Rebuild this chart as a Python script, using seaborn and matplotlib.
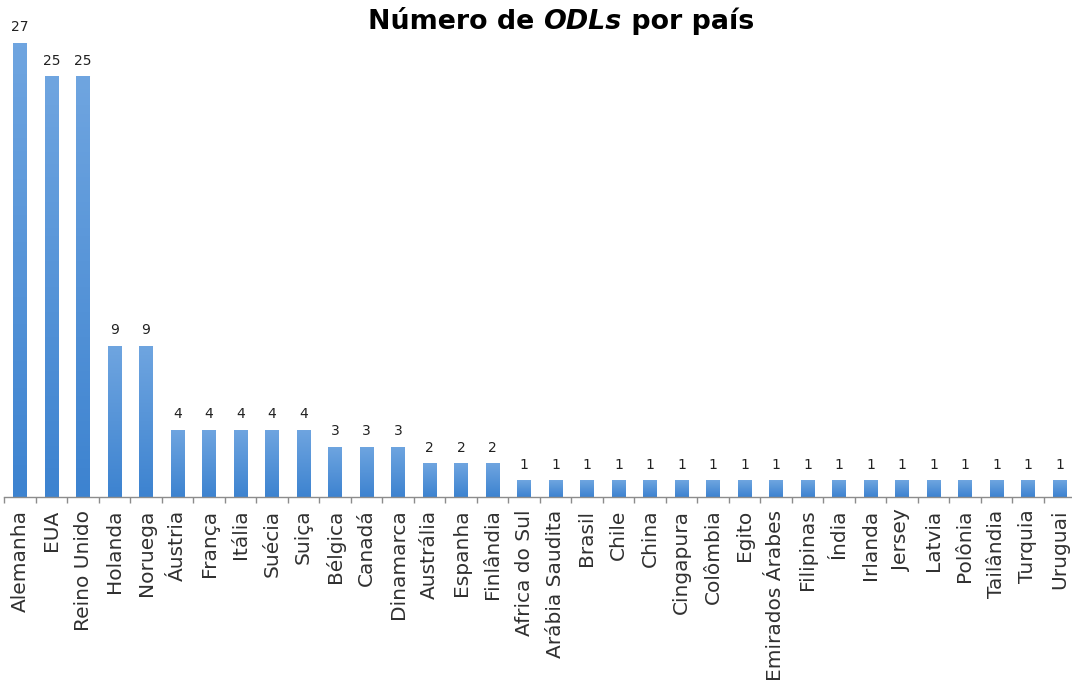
import matplotlib
matplotlib.use("Agg")
import matplotlib.pyplot as plt
from matplotlib.colors import LinearSegmentedColormap
import seaborn as sns
import pandas as pd
import numpy as np

# Dados
paises = ['Alemanha', 'EUA', 'Reino Unido', 'Holanda', 'Noruega', 'Áustria', 'França',
          'Itália', 'Suécia', 'Suiça', 'Bélgica', 'Canadá', 'Dinamarca', 'Austrália',
          'Espanha', 'Finlândia', 'Africa do Sul', 'Arábia Saudita', 'Brasil', 'Chile',
          'China', 'Cingapura', 'Colômbia', 'Egito', 'Emirados Árabes', 'Filipinas',
          'Índia', 'Irlanda', 'Jersey', 'Latvia', 'Polônia', 'Tailândia', 'Turquia', 'Uruguai']
valores = [27, 25, 25, 9, 9, 4, 4, 4, 4, 4, 3, 3, 3, 2, 2, 2,
           1, 1, 1, 1, 1, 1, 1, 1, 1, 1, 1, 1, 1, 1, 1, 1, 1, 1]

df = pd.DataFrame({'pais': paises, 'n': valores})

sns.set_style("white")
plt.rcParams['font.family'] = ['DejaVu Sans']

fig = plt.figure(figsize=(10.72, 6.86), dpi=100)
ax = fig.add_axes([0.004, 0.2755, 0.999, 0.699])

sns.barplot(data=df, x='pais', y='n', color='#5596d8', width=0.42, ax=ax, saturation=1)

ax.set_xlim(-0.5, len(paises) - 0.5)
ax.set_ylim(0, 28.5)
ax.set_xlabel('')
ax.set_ylabel('')
ax.set_yticks([])

# gradiente vertical em cada barra (mais claro em cima)
grad_cmap = LinearSegmentedColormap.from_list('g', ['#3d83d0', '#6fa5e0'])
grad = np.linspace(0, 1, 100).reshape(-1, 1)
for bar in ax.patches:
    x0, y0 = bar.get_x(), bar.get_y()
    w, h = bar.get_width(), bar.get_height()
    im = ax.imshow(grad, cmap=grad_cmap, origin='lower', aspect='auto',
                   extent=[x0, x0 + w, y0, y0 + h], zorder=bar.get_zorder() + 0.1)
    im.set_clip_path(bar)
ax.set_xlim(-0.5, len(paises) - 0.5)
ax.set_ylim(0, 28.5)

for s in ['top', 'right', 'left']:
    ax.spines[s].set_visible(False)
ax.spines['bottom'].set_color('#8c8c8c')
ax.spines['bottom'].set_linewidth(1.0)

ax.set_xticks(range(len(paises)))
ax.set_xticklabels(paises, rotation=90, fontsize=14.5, color='#303030')
ax.tick_params(axis='x', which='major', length=0, pad=9)
ax.set_xticks(np.arange(-0.5, len(paises), 1), minor=True)
ax.tick_params(axis='x', which='minor', bottom=True, length=4, color='#8c8c8c', width=1)

# valores acima das barras
for i, v in enumerate(valores):
    ax.annotate(str(v), xy=(i, v), xytext=(0, 6), textcoords='offset points',
                ha='center', va='bottom', fontsize=10, color='#222222')

# título com "ODLs" em itálico
tam = 19.4
yb = 0.958
t1 = fig.text(0.343, yb, 'Número de ', fontsize=tam, fontweight='bold', va='baseline', color='black')
t2 = fig.text(0, yb, 'ODLs', fontsize=tam, fontweight='bold', style='italic', va='baseline', color='black')
t3 = fig.text(0, yb, ' por país', fontsize=tam, fontweight='bold', va='baseline', color='black')
fig.canvas.draw()
r = fig.canvas.get_renderer()
bb1 = t1.get_window_extent(r)
x1, _ = fig.transFigure.inverted().transform((bb1.x1, 0))
t2.set_position((x1, yb))
fig.canvas.draw()
bb2 = t2.get_window_extent(r)
x2, _ = fig.transFigure.inverted().transform((bb2.x1, 0))
t3.set_position((x2, yb))

fig.savefig('out.png', dpi=100)
